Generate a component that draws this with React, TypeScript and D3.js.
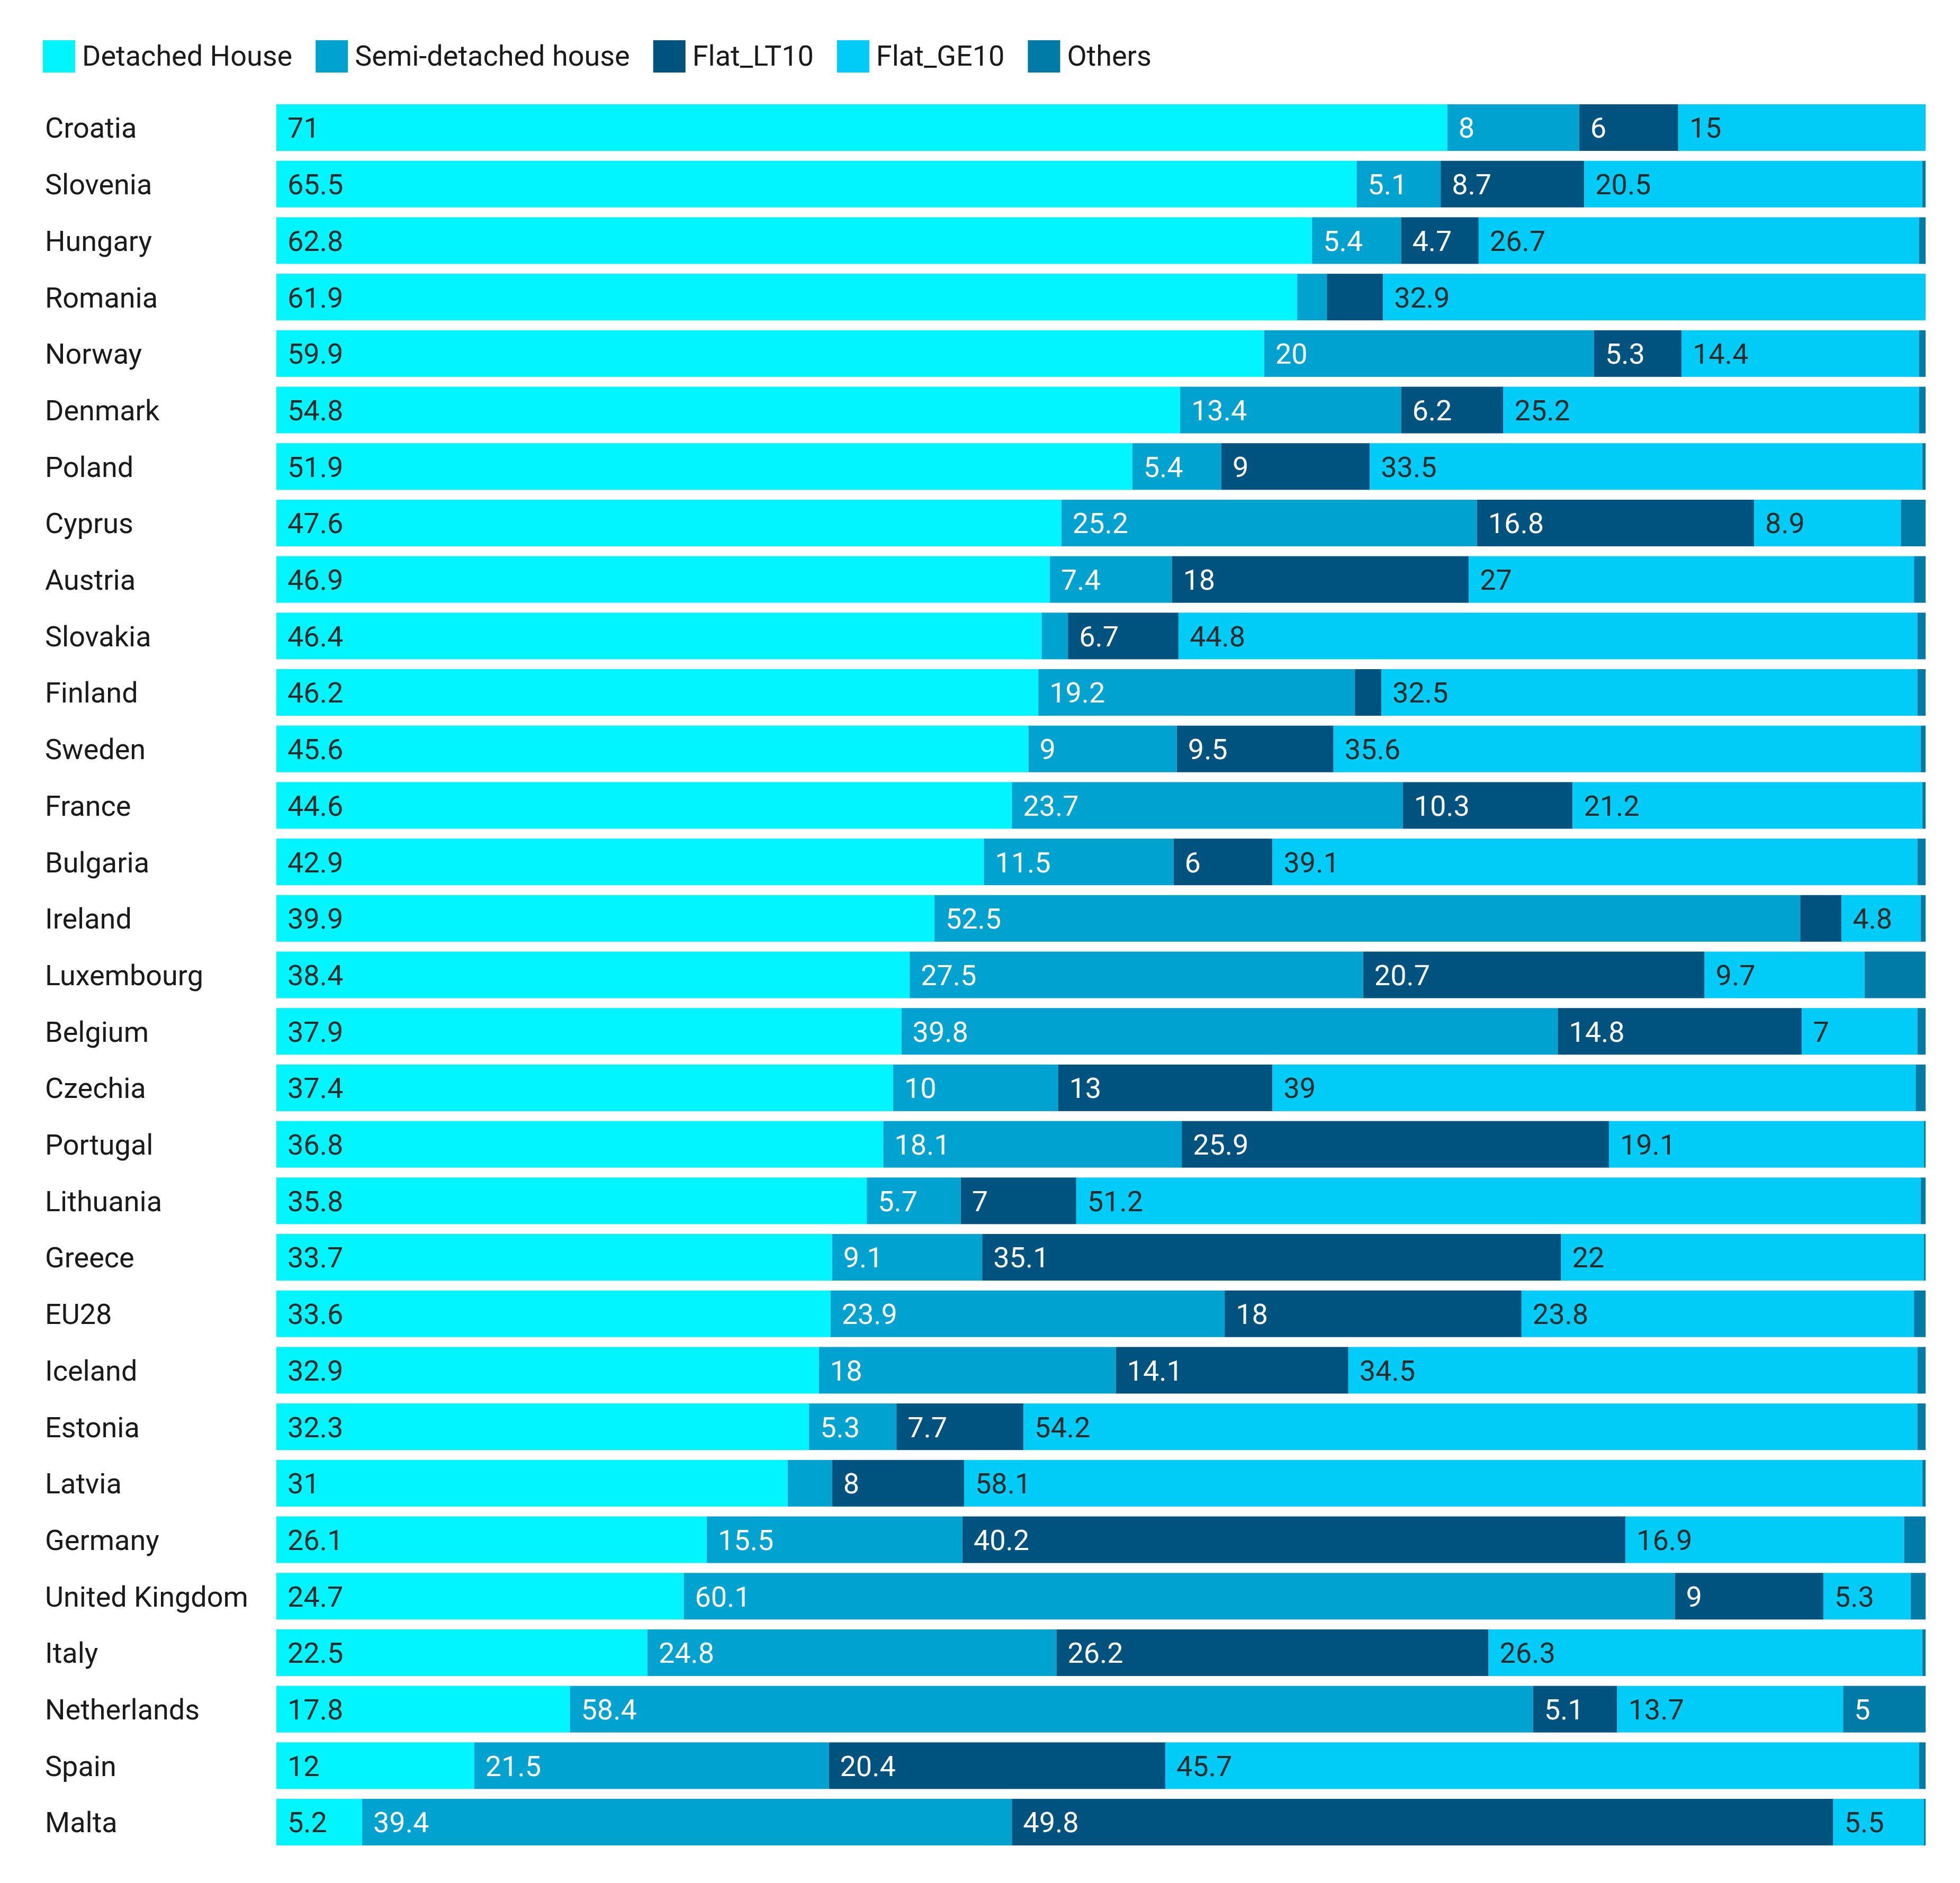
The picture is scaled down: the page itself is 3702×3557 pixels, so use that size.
import React from "react";
import * as d3 from "d3";

const countries = ["Croatia","Slovenia","Hungary","Romania","Norway","Denmark","Poland","Cyprus","Austria","Slovakia","Finland","Sweden","France","Bulgaria","Ireland","Luxembourg","Belgium","Czechia","Portugal","Lithuania","Greece","EU28","Iceland","Estonia","Latvia","Germany","United Kingdom","Italy","Netherlands","Spain","Malta"];
const detached = [71,65.5,62.8,61.9,59.9,54.8,51.9,47.6,46.9,46.4,46.2,45.6,44.6,42.9,39.9,38.4,37.9,37.4,36.8,35.8,33.7,33.6,32.9,32.3,31,26.1,24.7,22.5,17.8,12,5.2];
const semiDetached = [8,5.1,5.4,1.8,20,13.4,5.4,25.2,7.4,1.6,19.2,9,23.7,11.5,52.5,27.5,39.8,10,18.1,5.7,9.1,23.9,18,5.3,2.7,15.5,60.1,24.8,58.4,21.5,39.4];
const flatLT10 = [6,8.7,4.7,3.4,5.3,6.2,9,16.8,18,6.7,1.6,9.5,10.3,6,2.5,20.7,14.8,13,25.9,7,35.1,18,14.1,7.7,8,40.2,9,26.2,5.1,20.4,49.8];
const flatGE10 = [15,20.5,26.7,32.9,14.4,25.2,33.5,8.9,27,44.8,32.5,35.6,21.2,39.1,4.8,9.7,7,39,19.1,51.2,22,23.8,34.5,54.2,58.1,16.9,5.3,26.3,13.7,45.7,5.5];
const others = [0,0.2,0.4,0,0.4,0.4,0.2,1.5,0.7,0.5,0.5,0.3,0.2,0.5,0.3,3.7,0.5,0.6,0.1,0.3,0.1,0.7,0.5,0.5,0.2,1.3,0.9,0.2,5,0.4,0.1];

const seriesNames = ["Detached House","Semi-detached house","Flat_LT10","Flat_GE10","Others"];
const seriesColors = ["#00F5FF","#00A3CF","#00537E","#00CCF7","#007BA7"];
const labelColors = ["#2a2a2a","#ffffff","#ffffff","#2a2a2a","#ffffff"];
const seriesValues = [detached, semiDetached, flatLT10, flatGE10, others];

const W = 3702;
const H = 3557;
const FONT = "Roboto, 'Noto Sans', sans-serif";
const FS = 54;

function measure(text: string): number {
  const c = document.createElement("canvas").getContext("2d");
  if (!c) return text.length * FS * 0.5;
  c.font = `${FS}px Roboto`;
  return c.measureText(text).width;
}

export default function App() {
  const x = d3.scaleLinear().domain([0, 100]).range([522, 3637]);
  const y = d3.scaleBand<string>().domain(countries).range([187.7, 187.7 + 31 * 106.7]).paddingInner(0.175).paddingOuter(0.0875);

  const rows = countries.map((c, i) => {
    let acc = 0;
    return seriesValues.map((vals, s) => {
      const v = vals[i];
      const x0 = acc;
      acc += v;
      return { c, s, v, x0, x1: acc };
    });
  });

  let lx = 81;
  const legend = seriesNames.map((name, i) => {
    const item = { name, i, x: lx };
    lx += 74 + measure(name) + 44;
    return item;
  });

  return (
    <div style={{ position: "absolute", left: 0, top: 0, background: "#fff" }}>
      <svg width={W} height={H} style={{ display: "block" }} fontFamily={FONT}>
        <rect width={W} height={H} fill="#ffffff" />
        {legend.map((l) => (
          <g key={l.name}>
            <rect x={l.x} y={76} width={61} height={61} fill={seriesColors[l.i]} />
            <text x={l.x + 74} y={124} fontSize={FS} fill="#1a1a1a">{l.name}</text>
          </g>
        ))}
        {rows.map((segs, i) => {
          const c = countries[i];
          const by = y(c) as number;
          const bh = y.bandwidth();
          const cy = by + bh / 2;
          return (
            <g key={c}>
              <text x={85} y={cy} dy="0.36em" fontSize={FS} fill="#1a1a1a">{c}</text>
              {segs.map((sg) => (
                <rect key={sg.s} x={x(sg.x0)} y={by} width={Math.max(0, x(sg.x1) - x(sg.x0))} height={bh} fill={seriesColors[sg.s]} />
              ))}
              {segs.filter((sg) => sg.v >= 4).map((sg) => (
                <text key={"t" + sg.s} x={x(sg.x0) + 21} y={cy} dy="0.36em" fontSize={FS} fill={labelColors[sg.s]}>{String(sg.v)}</text>
              ))}
            </g>
          );
        })}
      </svg>
    </div>
  );
}
